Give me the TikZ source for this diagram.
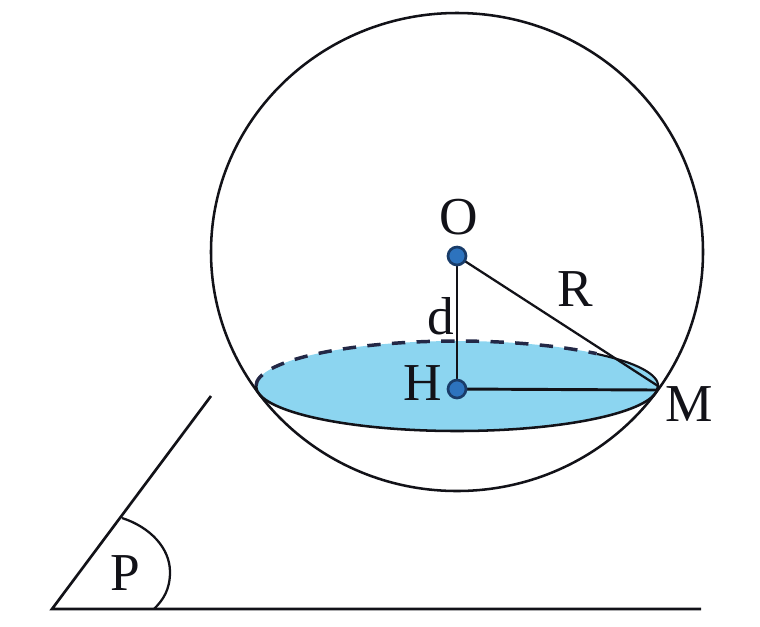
\documentclass[tikz,border=0pt]{standalone}
\usepackage{fontspec}
\setmainfont{Liberation Serif}
\definecolor{disc}{RGB}{140,213,240}
\definecolor{dotc}{RGB}{45,115,190}
\definecolor{dotedge}{RGB}{25,60,105}
\definecolor{ink}{RGB}{18,18,24}
\definecolor{dashc}{RGB}{35,40,70}
\tikzset{
  px/.style={x=0.75pt,y=-0.75pt},
  lab/.style={font=\fontsize{40}{42}\selectfont,text=ink,inner sep=0pt},
  pt/.style={circle,draw=dotedge,fill=dotc,line width=2pt,minimum size=13.5pt,inner sep=0pt},
  ln/.style={draw=ink,line width=1.7pt}
}
\begin{document}
\begin{tikzpicture}[px]
\useasboundingbox (0,0) rectangle (760,626);
\coordinate (C) at (457,252);
\fill[disc] (457,386) ellipse [x radius=201, y radius=45];
\draw[draw=dashc,line width=2.6pt,dash pattern=on 10pt off 8.5pt] (256,386) arc [start angle=180,end angle=314,x radius=201,y radius=45];
\draw[ln,line width=1.6pt] (597,354) arc [start angle=314,end angle=360,x radius=201,y radius=45];
\draw[ln,line width=1.9pt] (658,386) arc [start angle=0,end angle=180,x radius=201,y radius=45];
\draw[ln,line width=1.9pt] (C) ellipse [x radius=246, y radius=239];
\coordinate (Mp) at (658,386);
\coordinate (Ot) at (457,256);
\coordinate (Ht) at (457,389);
\draw[ln,line width=2pt] (Ot) -- (Ht);
\draw[ln] (Ot) -- (Mp);
\draw[ln,line width=2.2pt] (Ht) -- (656,390);
\node[pt] (O) at (Ot) {};
\node[pt] (H) at (Ht) {};
\node[lab] at (459,217) {O};
\node[lab] at (575,289) {R};
\node[lab] at (441,316) {d};
\node[lab] at (423,383) {H};
\node[lab] at (689,404) {M};
\node[lab] at (125,573) {P};
\coordinate (A) at (52,609);
\coordinate (B) at (211,396);
\coordinate (E) at (701,609);
\draw[ln,line width=2pt] (B) -- (A) -- (E);
\draw[ln] (122,518) .. controls (150,527) and (170,548) .. (170,572) .. controls (170,590) and (163,600) .. (154,609);
\end{tikzpicture}
\end{document}
